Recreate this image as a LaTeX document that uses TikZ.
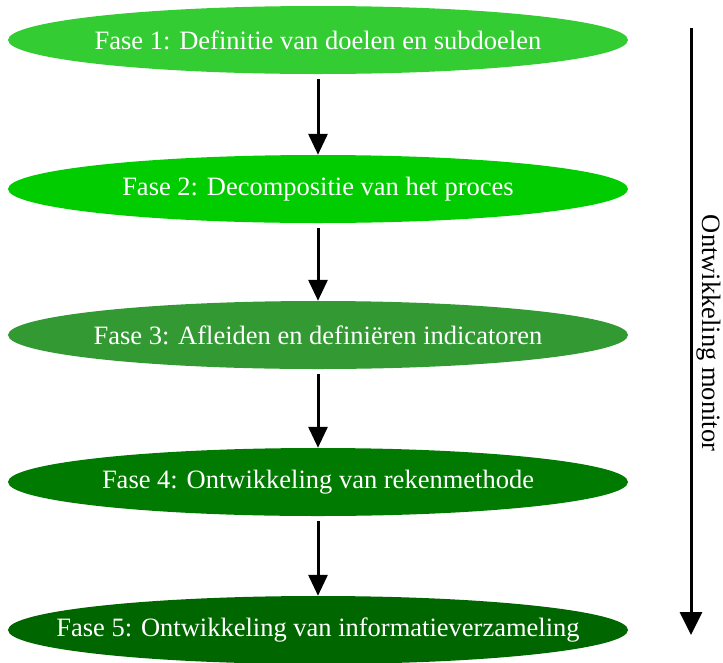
\documentclass[tikz,border=0pt]{standalone}
\usepackage{fontspec}
\setmainfont{Liberation Serif}
\usetikzlibrary{shapes.geometric,arrows.meta}
\definecolor{cA}{HTML}{33CC33}
\definecolor{cB}{HTML}{00CC00}
\definecolor{cC}{HTML}{339933}
\definecolor{cD}{HTML}{007A00}
\definecolor{cE}{HTML}{006600}
\begin{document}
\begin{tikzpicture}[x=1pt,y=-1pt,
  phase/.style={ellipse,minimum width=620pt,minimum height=68pt,inner sep=0pt,
    text=white,font=\fontsize{26.5}{30}\selectfont},
  flow/.style={line width=3pt,-{Triangle[width=19pt,length=21pt]}},
  bigflow/.style={line width=3pt,-{Triangle[width=22pt,length=23pt]}}]
\useasboundingbox (0,0) rectangle (723,662);
\node[phase,fill=cA] (p1) at (318,40) {\makebox[0pt]{Fase 1: Definitie van doelen en subdoelen}};
\node[phase,fill=cB] (p2) at (318,189) {\makebox[0pt]{Fase 2: Decompositie van het proces}};
\node[phase,fill=cC] (p3) at (318,335) {\makebox[0pt]{Fase 3: Afleiden en definiëren indicatoren}};
\node[phase,fill=cD] (p4) at (318,482) {\makebox[0pt]{Fase 4: Ontwikkeling van rekenmethode}};
\node[phase,fill=cE] (p5) at (318,630) {\makebox[0pt]{Fase 5: Ontwikkeling van informatieverzameling}};
\draw[flow] ([yshift=-5pt]p1.south) -- (p2.north);
\draw[flow] ([yshift=-5pt]p2.south) -- (p3.north);
\draw[flow] ([yshift=-5pt]p3.south) -- (p4.north);
\draw[flow] ([yshift=-5pt]p4.south) -- (p5.north);
\coordinate (m1) at (691,28);
\coordinate (m2) at (691,635);
\draw[bigflow] (m1) -- (m2);
\node[rotate=-90,anchor=base,font=\fontsize{26.5}{30}\selectfont,inner sep=0pt] (mon) at (702,333) {Ontwikkeling monitor};
\end{tikzpicture}
\end{document}
